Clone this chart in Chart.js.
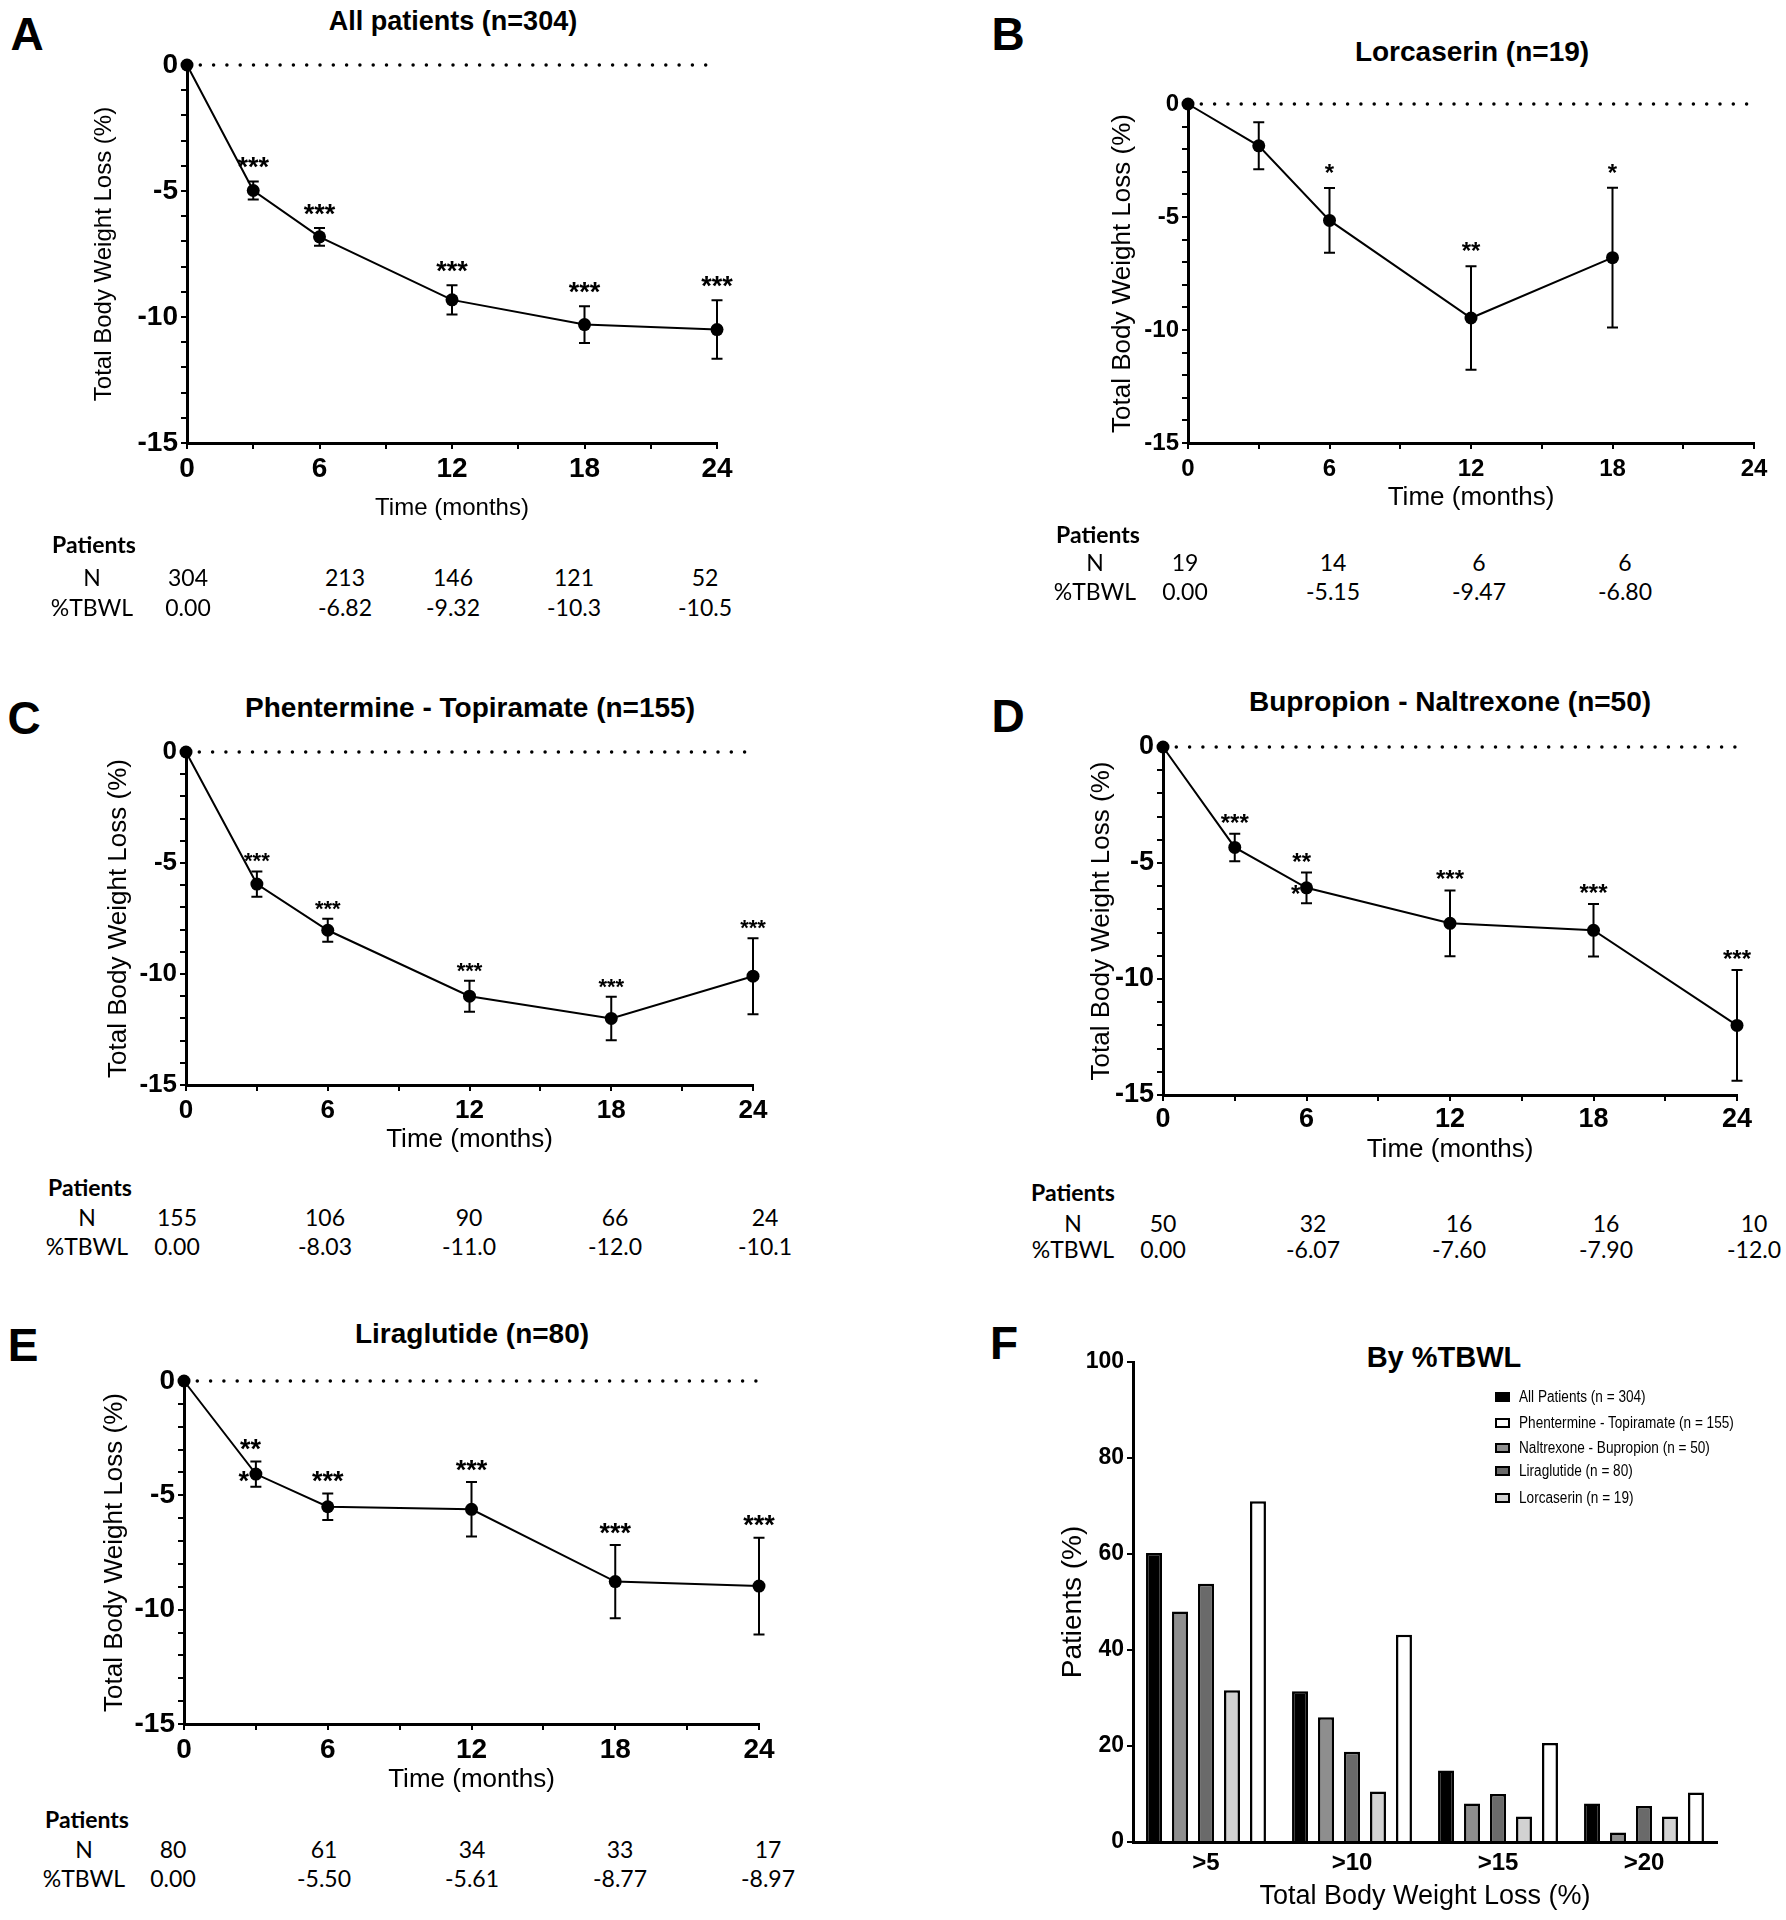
<!DOCTYPE html>
<html>
<head>
<meta charset="utf-8">
<script src="https://cdn.jsdelivr.net/npm/chart.js@4.4.1/dist/chart.umd.min.js"></script>
<style>
  body { margin: 0; background: #fff; width: 1786px; height: 1920px; position: relative; overflow: hidden;
         font-family: 'Liberation Sans', Arial, sans-serif; color: #000; }
  canvas { position: absolute; }
  .t { position: absolute; transform: translate(-50%, -50%); white-space: nowrap; line-height: 1; }
  .l { position: absolute; transform: translate(0, -50%); white-space: nowrap; line-height: 1; }
  .tab { font-family: Lato, 'Open Sans', sans-serif; font-size: 23px; }
  .letter { font-weight: bold; font-size: 46px; }
  .ttl { font-weight: bold; font-size: 28px; }
</style>
</head>
<body>
<script>
// ---- data ----
const months = [0, 3, 6, 12, 18, 24];
const monthsLorc = [0, 3, 6, 12, 18];

// A: all patients
const allTbwl = [0, -4.98, -6.82, -9.32, -10.3, -10.5];
const allSem = [0, 0.36, 0.35, 0.58, 0.73, 1.16];
const allStars = ['', '***', '***', '***', '***', '***'];
const allN = [304, 213, 146, 121, 52];

// B: lorcaserin
const lorcTbwl = [0, -1.85, -5.15, -9.47, -6.80];
const lorcSem = [0, 1.04, 1.43, 2.29, 3.09];
const lorcStars = ['', '', '*', '**', '*'];
const lorcN = [19, 14, 6, 6];

// C: phentermine - topiramate
const phenTbwl = [0, -5.95, -8.03, -11.0, -12.0, -10.1];
const phenSem = [0, 0.57, 0.52, 0.70, 0.98, 1.71];
const phenStars = ['', '***', '***', '***', '***', '***'];
const phenN = [155, 106, 90, 66, 24];

// D: bupropion - naltrexone ('|' = star wrapped next to the point)
const bupTbwl = [0, -4.33, -6.07, -7.60, -7.90, -12.0];
const bupSem = [0, 0.59, 0.66, 1.42, 1.13, 2.39];
const bupStars = ['', '***', '**|*', '***', '***', '***'];
const bupN = [50, 32, 16, 16, 10];

// E: liraglutide
const liraTbwl = [0, -4.07, -5.50, -5.61, -8.77, -8.97];
const liraSem = [0, 0.55, 0.58, 1.19, 1.60, 2.12];
const liraStars = ['', '**|*', '***', '***', '***', '***'];
const liraN = [80, 61, 34, 33, 17];

// F: share of patients by %TBWL
const tbwlCats = ['>5', '>10', '>15', '>20'];
const barAll = [60.2, 31.4, 14.9, 8.0];
const barNal = [48, 26, 8, 2];
const barLira = [53.8, 18.8, 10, 7.5];
const barLorc = [31.6, 10.5, 5.3, 5.3];
const barPhen = [71.0, 43.2, 20.6, 10.3];

Chart.defaults.font.family = "'Liberation Sans', Arial, sans-serif";
Chart.defaults.color = '#000';
Chart.defaults.animation = false;

function addCanvas(l, t, w, h) {
  const c = document.createElement('canvas');
  c.width = w; c.height = h;
  c.style.left = l + 'px'; c.style.top = t + 'px';
  c.style.width = w + 'px'; c.style.height = h + 'px';
  document.body.appendChild(c);
  return c;
}

function addText(txt, x, y, css, cls) {
  const d = document.createElement('div');
  d.className = cls || 't';
  d.textContent = txt;
  d.style.cssText = 'left:' + x + 'px;top:' + y + 'px;' + (css || '');
  document.body.appendChild(d);
  return d;
}

// error bars + significance stars
const errorBars = {
  id: 'errorBars',
  afterDatasetsDraw(chart) {
    const ds = chart.data.datasets[0];
    const meta = chart.getDatasetMeta(0);
    const ys = chart.scales.y;
    const ctx = chart.ctx;
    const fs = ds.starSize;
    ctx.save();
    ctx.strokeStyle = '#000';
    ctx.fillStyle = '#000';
    ctx.lineWidth = 2;
    ctx.font = 'bold ' + fs + "px 'Liberation Sans', Arial, sans-serif";
    ctx.textAlign = 'center';
    ctx.textBaseline = 'alphabetic';
    meta.data.forEach((pt, i) => {
      const v = ds.data[i].y, e = ds.errors[i];
      const top = ys.getPixelForValue(v + e), bot = ys.getPixelForValue(v - e);
      if (e) {
        ctx.beginPath();
        ctx.moveTo(pt.x, top); ctx.lineTo(pt.x, bot);
        ctx.moveTo(pt.x - 5.5, top); ctx.lineTo(pt.x + 5.5, top);
        ctx.moveTo(pt.x - 5.5, bot); ctx.lineTo(pt.x + 5.5, bot);
        ctx.stroke();
      }
      const s = ds.stars[i];
      if (!s) return;
      const base = top - ds.starGap + 0.585 * fs;
      if (s.indexOf('|') >= 0) {
        const parts = s.split('|');
        ctx.fillText(parts[0], pt.x - 0.2 * fs, base);
        ctx.fillText(parts[1], pt.x - 0.45 * fs, pt.y + 0.585 * fs);
      } else {
        ctx.fillText(s, pt.x, base);
      }
    });
    ctx.restore();
  }
};

function makeLine(p) {
  const CL = p.yTitleX - 22, CT = p.yTop - 40, CR = Math.min(p.x24 + 30, 1786), CB = p.xTitleY + 24;
  const c = addCanvas(CL, CT, CR - CL, CB - CT);
  const points = p.months.map((m, i) => ({ x: m, y: p.tbwl[i] }));
  new Chart(c, {
    type: 'line',
    data: {
      datasets: [
        {
          data: points,
          borderColor: '#000',
          borderWidth: 2,
          pointRadius: 6.5,
          pointHoverRadius: 6.5,
          pointBackgroundColor: '#000',
          pointBorderWidth: 0,
          tension: 0,
          clip: false,
          errors: p.sem,
          stars: p.stars,
          starSize: p.starSize,
          starGap: p.starGap
        },
        {
          data: [{ x: 0, y: 0 }, { x: 24, y: 0 }],
          borderColor: '#000',
          borderWidth: 3.5,
          borderDash: [0, 13.3],
          borderCapStyle: 'round',
          pointRadius: 0,
          clip: false
        }
      ]
    },
    options: {
      responsive: false,
      events: [],
      layout: { padding: { left: 0, top: p.yTop - CT, right: CR - p.x24, bottom: 0 } },
      plugins: { legend: { display: false }, tooltip: { enabled: false } },
      scales: {
        x: {
          type: 'linear', min: 0, max: 24,
          afterFit: s => { s.height = CB - p.yBot; },
          ticks: {
            stepSize: 3, autoSkip: false, maxRotation: 0,
            padding: p.labOff - 3 - p.tickSize * 0.6,
            font: { size: p.tickSize, weight: 'bold' },
            callback: v => (v % 6 === 0 ? v : '')
          },
          grid: { drawOnChartArea: false, tickLength: 6, color: '#000', lineWidth: 2 },
          border: { color: '#000', width: 3 },
          title: {
            display: true, text: 'Time (months)', font: { size: p.titleSize },
            padding: { top: 0, bottom: CB - p.xTitleY - p.titleSize * 0.6 }
          }
        },
        y: {
          min: -15, max: 0,
          afterFit: s => { s.width = p.x0 - CL; },
          ticks: {
            stepSize: 1, autoSkip: false, padding: 3,
            font: { size: p.tickSize, weight: 'bold' },
            callback: v => (v % 5 === 0 ? v : '')
          },
          grid: { drawOnChartArea: false, tickLength: 6, color: '#000', lineWidth: 2 },
          border: { color: '#000', width: 3 },
          title: {
            display: true, text: 'Total Body Weight Loss (%)', font: { size: p.titleSize },
            padding: { top: p.yTitleX - CL - p.titleSize * 0.6, bottom: 0 }
          }
        }
      }
    },
    plugins: [errorBars]
  });
}

function addTable(t, tbwl, ms, nArr) {
  addText('Patients', t.left, t.yP - 2, 'font-weight:bold;', 'l tab');
  addText('N', t.lab, t.yN - 2, '', 't tab');
  addText('%TBWL', t.lab, t.yT - 2, '', 't tab');
  const shown = tbwl.filter((v, i) => ms[i] !== 3);
  nArr.forEach((n, i) => {
    addText(String(n), t.cols[i], t.yN - 2, '', 't tab');
    addText(shown[i].toPrecision(3), t.cols[i], t.yT - 2, '', 't tab');
  });
}

// ---- panel A ----
addText('A', 27, 34, '', 't letter');
addText('All patients (n=304)', 453, 21, 'font-size:27px;', 't ttl');
makeLine({ x0: 187, x24: 717, yTop: 65, yBot: 443, yTitleX: 104, xTitleY: 508, tickSize: 28, titleSize: 24,
  labOff: 23, starSize: 27, starGap: 21, months: months, tbwl: allTbwl, sem: allSem, stars: allStars });
addTable({ left: 52, lab: 92, yP: 546, yN: 579, yT: 609, cols: [188, 345, 453, 574, 705] }, allTbwl, months, allN);

// ---- panel B ----
addText('B', 1008, 34, '', 't letter');
addText('Lorcaserin (n=19)', 1472, 52, '', 't ttl');
makeLine({ x0: 1188, x24: 1754, yTop: 104, yBot: 443, yTitleX: 1123, xTitleY: 498, tickSize: 24, titleSize: 26,
  labOff: 23, starSize: 24, starGap: 21, months: monthsLorc, tbwl: lorcTbwl, sem: lorcSem, stars: lorcStars });
addTable({ left: 1056, lab: 1095, yP: 536, yN: 564, yT: 593, cols: [1185, 1333, 1479, 1625] }, lorcTbwl, monthsLorc, lorcN);

// ---- panel C ----
addText('C', 24, 718, '', 't letter');
addText('Phentermine - Topiramate (n=155)', 470, 708, '', 't ttl');
makeLine({ x0: 186, x24: 753, yTop: 752, yBot: 1085, yTitleX: 119, xTitleY: 1140, tickSize: 26, titleSize: 26,
  labOff: 23, starSize: 22, starGap: 16, months: months, tbwl: phenTbwl, sem: phenSem, stars: phenStars });
addTable({ left: 48, lab: 87, yP: 1189, yN: 1219, yT: 1248, cols: [177, 325, 469, 615, 765] }, phenTbwl, months, phenN);

// ---- panel D ----
addText('D', 1008, 716, '', 't letter');
addText('Bupropion - Naltrexone (n=50)', 1450, 702, '', 't ttl');
makeLine({ x0: 1163, x24: 1737, yTop: 747, yBot: 1095, yTitleX: 1102, xTitleY: 1150, tickSize: 27, titleSize: 26,
  labOff: 22, starSize: 24, starGap: 17, months: months, tbwl: bupTbwl, sem: bupSem, stars: bupStars });
addTable({ left: 1031, lab: 1073, yP: 1194, yN: 1225, yT: 1251, cols: [1163, 1313, 1459, 1606, 1754] }, bupTbwl, months, bupN);

// ---- panel E ----
addText('E', 23, 1345, '', 't letter');
addText('Liraglutide (n=80)', 472, 1334, '', 't ttl');
makeLine({ x0: 184, x24: 759, yTop: 1381, yBot: 1724, yTitleX: 115, xTitleY: 1780, tickSize: 28, titleSize: 26,
  labOff: 23, starSize: 27, starGap: 19, months: months, tbwl: liraTbwl, sem: liraSem, stars: liraStars });
addTable({ left: 45, lab: 84, yP: 1821, yN: 1851, yT: 1880, cols: [173, 324, 472, 620, 768] }, liraTbwl, months, liraN);

// ---- panel F ----
addText('F', 1004, 1343, '', 't letter');
addText('By %TBWL', 1444, 1357, 'font-size:29px;', 't ttl');
(function () {
  const CL = 1050, CT = 1330, CR = 1740, CB = 1920;
  const x0 = 1133, x1 = 1717, yTop = 1362, yBot = 1842;
  const c = addCanvas(CL, CT, CR - CL, CB - CT);
  const bar = (label, data, color) => ({
    label: label, data: data, backgroundColor: color, borderColor: '#000', borderWidth: 2.5,
    categoryPercentage: 0.89, barPercentage: 0.615
  });
  const chart = new Chart(c, {
    type: 'bar',
    data: {
      labels: tbwlCats,
      datasets: [
        bar('All Patients (n = 304)', barAll, '#000000'),
        bar('Naltrexone - Bupropion (n = 50)', barNal, '#8e8e8e'),
        bar('Liraglutide (n = 80)', barLira, '#6a6a6a'),
        bar('Lorcaserin (n = 19)', barLorc, '#d2d2d2'),
        bar('Phentermine - Topiramate (n = 155)', barPhen, '#ffffff')
      ]
    },
    options: {
      responsive: false,
      events: [],
      layout: { padding: { left: 0, top: yTop - CT, right: CR - x1, bottom: 0 } },
      plugins: { legend: { display: false }, tooltip: { enabled: false } },
      scales: {
        x: {
          afterFit: s => { s.height = CB - yBot; },
          ticks: { padding: 21 - 24 * 0.6, font: { size: 24, weight: 'bold' } },
          grid: { display: false, drawTicks: false },
          border: { color: '#000', width: 3 },
          title: {
            display: true, text: 'Total Body Weight Loss (%)', font: { size: 27 },
            padding: { top: 0, bottom: CB - 1897 - 27 * 0.6 }
          }
        },
        y: {
          min: 0, max: 100,
          afterFit: s => { s.width = x0 - CL; },
          ticks: { stepSize: 20, padding: 3, font: { size: 23, weight: 'bold' } },
          grid: { drawOnChartArea: false, tickLength: 6, color: '#000', lineWidth: 2 },
          border: { color: '#000', width: 3 },
          title: {
            display: true, text: 'Patients (%)', font: { size: 28 },
            padding: { top: 1073 - CL - 28 * 0.6, bottom: 0 }
          }
        }
      }
    }
  });

  // legend, in the figure's order
  const legendOrder = [0, 4, 1, 2, 3];
  const legendY = [1397, 1423, 1448, 1471, 1498];
  legendOrder.forEach((di, k) => {
    const ds = chart.data.datasets[di];
    const box = document.createElement('div');
    box.style.cssText = 'position:absolute;left:1495px;top:' + (legendY[k] - 5) + 'px;width:15px;height:10px;' +
      'box-sizing:border-box;border:2px solid #000;background:' + ds.backgroundColor + ';';
    document.body.appendChild(box);
    addText(ds.label, 1519, legendY[k], 'font-size:16px;transform:translate(0,-50%) scaleX(0.85);transform-origin:left center;', 'l');
  });
})();
</script>
</body>
</html>
